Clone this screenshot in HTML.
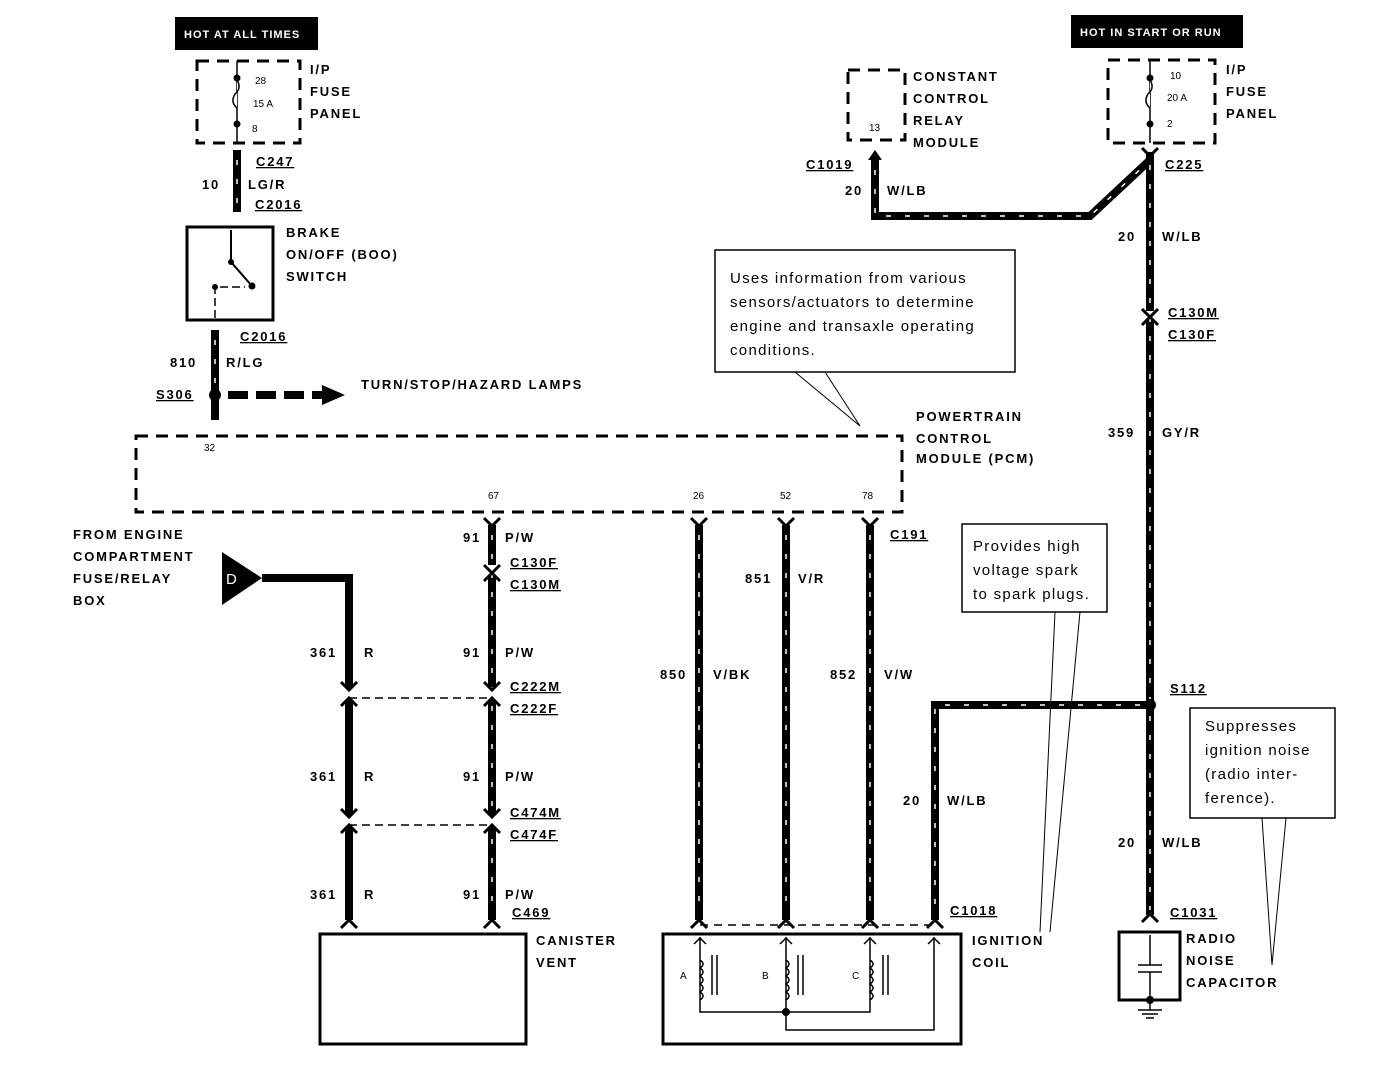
<!DOCTYPE html>
<html><head><style>
body{margin:0;background:#fff}
svg text{font-family:"Liberation Sans",sans-serif;font-weight:bold;font-size:13px;letter-spacing:1.8px;fill:#000}
svg text.n{font-weight:normal;font-size:15px;letter-spacing:1.3px}
svg text.s{font-size:10px;font-weight:normal;letter-spacing:0}
svg text.u{text-decoration:underline}
</style></head><body>
<svg width="1392" height="1060" viewBox="0 0 1392 1060" xmlns="http://www.w3.org/2000/svg">
<!-- top-left -->
<rect x="175" y="17" width="143" height="33" fill="#000"/>
<text x="184" y="38" style="fill:#fff;font-size:11px;letter-spacing:1px">HOT AT ALL TIMES</text>
<rect x="197" y="61" width="103" height="82" fill="none" stroke="#000" stroke-width="3" stroke-dasharray="12 8"/>
<line x1="237" y1="61" x2="237" y2="143" stroke="#000" stroke-width="1.5"/>
<path d="M237,80 q5,8 -2,14 q-5,8 2,14" fill="#fff" stroke="#000" stroke-width="1.5"/>
<circle cx="237" cy="78" r="3.5"/><circle cx="237" cy="124" r="3.5"/>
<text class="s" x="255" y="84">28</text><text class="s" x="253" y="107">15 A</text><text class="s" x="252" y="132">8</text>
<text x="310" y="74">I/P</text><text x="310" y="96">FUSE</text><text x="310" y="118">PANEL</text>
<line x1="237" y1="150" x2="237" y2="212" stroke="#000" stroke-width="8"/>
<line x1="237" y1="160" x2="237" y2="205" stroke="#fff" stroke-width="1.5" stroke-dasharray="5 14"/>
<text class="u" x="256" y="166">C247</text><text x="202" y="189">10</text><text x="248" y="189">LG/R</text><text class="u" x="255" y="209">C2016</text>
<rect x="187" y="227" width="86" height="93" fill="none" stroke="#000" stroke-width="3"/>
<polyline points="231,230 231,262 252,286" fill="none" stroke="#000" stroke-width="2"/>
<circle cx="231" cy="262" r="3"/><circle cx="252" cy="286" r="3.5"/>
<polyline points="215,318 215,287 245,287" fill="none" stroke="#000" stroke-width="1.5" stroke-dasharray="8 4"/>
<circle cx="215" cy="287" r="3"/>
<text x="286" y="237">BRAKE</text><text x="286" y="259">ON/OFF (BOO)</text><text x="286" y="281">SWITCH</text>
<line x1="215" y1="330" x2="215" y2="420" stroke="#000" stroke-width="8"/>
<line x1="215" y1="340" x2="215" y2="385" stroke="#fff" stroke-width="1.5" stroke-dasharray="5 14"/>
<text class="u" x="240" y="341">C2016</text><text x="170" y="367">810</text><text x="226" y="367">R/LG</text>
<text class="u" x="156" y="399">S306</text>
<circle cx="215" cy="395" r="6"/>
<line x1="228" y1="395" x2="325" y2="395" stroke="#000" stroke-width="8" stroke-dasharray="20 8"/>
<polygon points="322,385 345,395 322,405"/>
<text x="361" y="389">TURN/STOP/HAZARD LAMPS</text>
<!-- PCM -->
<rect x="136" y="436" width="766" height="76" fill="none" stroke="#000" stroke-width="3" stroke-dasharray="12 8"/>
<text class="s" x="204" y="451">32</text>
<text class="s" x="488" y="499">67</text><text class="s" x="693" y="499">26</text><text class="s" x="780" y="499">52</text><text class="s" x="862" y="499">78</text>
<text x="916" y="421">POWERTRAIN</text><text x="916" y="443">CONTROL</text><text x="916" y="463">MODULE (PCM)</text>
<rect x="715" y="250" width="300" height="122" fill="#fff" stroke="#000" stroke-width="1.5"/>
<text class="n" x="730" y="283">Uses information from various</text>
<text class="n" x="730" y="307">sensors/actuators to determine</text>
<text class="n" x="730" y="331">engine and transaxle operating</text>
<text class="n" x="730" y="355">conditions.</text>
<polyline points="795,372 860,426 825,372" fill="none" stroke="#000" stroke-width="1"/>
<!-- left -->
<text x="73" y="539">FROM ENGINE</text><text x="73" y="561">COMPARTMENT</text><text x="73" y="583">FUSE/RELAY</text><text x="73" y="605">BOX</text>
<polygon points="222,552 222,605 262,578"/>
<text x="226" y="584" style="fill:#fff;font-weight:normal;font-size:15px">D</text>
<polyline points="262,578 349,578 349,920" fill="none" stroke="#000" stroke-width="8"/>
<text x="310" y="657">361</text><text x="364" y="657">R</text>
<text x="310" y="781">361</text><text x="364" y="781">R</text>
<text x="310" y="899">361</text><text x="364" y="899">R</text>
<line x1="492" y1="525" x2="492" y2="920" stroke="#000" stroke-width="8"/>
<line x1="492" y1="535" x2="492" y2="915" stroke="#fff" stroke-width="1.5" stroke-dasharray="5 14"/>
<g fill="#fff"><rect x="340" y="688" width="160" height="12"/><rect x="340" y="815" width="160" height="12"/><rect x="484" y="565" width="16" height="10"/></g>
<g fill="none" stroke="#000" stroke-width="3">
<path d="M341,682 L349,690 L357,682 M341,706 L349,698 L357,706"/>
<path d="M484,682 L492,690 L500,682 M484,706 L492,698 L500,706"/>
<path d="M341,809 L349,817 L357,809 M341,833 L349,825 L357,833"/>
<path d="M484,809 L492,817 L500,809 M484,833 L492,825 L500,833"/>
<path d="M484,565 L492,573 L500,565 M484,581 L492,573 L500,581"/>
<path d="M341,928 L349,920 L357,928 M484,928 L492,920 L500,928 M484,518 L492,526 L500,518"/>
</g>
<line x1="349" y1="698" x2="492" y2="698" stroke="#000" stroke-width="1.5" stroke-dasharray="8 5"/>
<line x1="349" y1="825" x2="492" y2="825" stroke="#000" stroke-width="1.5" stroke-dasharray="8 5"/>
<text x="463" y="542">91</text><text x="505" y="542">P/W</text><text class="u" x="510" y="567">C130F</text><text class="u" x="510" y="589">C130M</text>
<text x="463" y="657">91</text><text x="505" y="657">P/W</text><text class="u" x="510" y="691">C222M</text><text class="u" x="510" y="713">C222F</text>
<text x="463" y="781">91</text><text x="505" y="781">P/W</text><text class="u" x="510" y="817">C474M</text><text class="u" x="510" y="839">C474F</text>
<text x="463" y="899">91</text><text x="505" y="899">P/W</text><text class="u" x="512" y="917">C469</text>
<rect x="320" y="934" width="206" height="110" fill="none" stroke="#000" stroke-width="3"/>
<text x="536" y="945">CANISTER</text><text x="536" y="967">VENT</text>
<!-- coil wires -->
<g stroke="#000" stroke-width="8"><line x1="699" y1="525" x2="699" y2="920"/><line x1="786" y1="525" x2="786" y2="920"/><line x1="870" y1="525" x2="870" y2="920"/></g>
<g stroke="#fff" stroke-width="1.5" stroke-dasharray="5 14"><line x1="699" y1="535" x2="699" y2="915"/><line x1="786" y1="535" x2="786" y2="915"/><line x1="870" y1="535" x2="870" y2="915"/></g>
<g fill="none" stroke="#000" stroke-width="3">
<path d="M691,518 L699,526 L707,518 M778,518 L786,526 L794,518 M862,518 L870,526 L878,518"/>
<path d="M691,928 L699,920 L707,928 M778,928 L786,920 L794,928 M862,928 L870,920 L878,928 M927,928 L935,920 L943,928"/>
</g>
<line x1="700" y1="925" x2="935" y2="925" stroke="#000" stroke-width="1.5" stroke-dasharray="8 6"/>
<text class="u" x="890" y="539">C191</text>
<text x="745" y="583">851</text><text x="798" y="583">V/R</text>
<text x="660" y="679">850</text><text x="713" y="679">V/BK</text>
<text x="830" y="679">852</text><text x="884" y="679">V/W</text>
<polyline points="1150,705 935,705 935,920" fill="none" stroke="#000" stroke-width="8"/>
<polyline points="1140,705 935,705 935,910" fill="none" stroke="#fff" stroke-width="1.5" stroke-dasharray="5 14"/>
<text x="903" y="805">20</text><text x="947" y="805">W/LB</text><text class="u" x="950" y="915">C1018</text>
<rect x="663" y="934" width="298" height="110" fill="none" stroke="#000" stroke-width="3"/>
<g fill="none" stroke="#000" stroke-width="1.5">
<polyline points="700,937 700,1012 786,1012"/><polyline points="786,937 786,1030 934,1030 934,937"/><polyline points="870,937 870,1012 786,1012"/>
<path d="M700,960 q6,4 0,8 q6,4 0,8 q6,4 0,8 q6,4 0,8 q6,4 0,8"/>
<path d="M786,960 q6,4 0,8 q6,4 0,8 q6,4 0,8 q6,4 0,8 q6,4 0,8"/>
<path d="M870,960 q6,4 0,8 q6,4 0,8 q6,4 0,8 q6,4 0,8 q6,4 0,8"/>
<path d="M712,955 v40 M717,955 v40 M798,955 v40 M803,955 v40 M883,955 v40 M888,955 v40"/>
<path d="M694,944 L700,938 L706,944 M780,944 L786,938 L792,944 M864,944 L870,938 L876,944 M928,944 L934,938 L940,944"/>
</g>
<circle cx="786" cy="1012" r="4"/>
<text class="s" x="680" y="979">A</text><text class="s" x="762" y="979">B</text><text class="s" x="852" y="979">C</text>
<text x="972" y="945">IGNITION</text><text x="972" y="967">COIL</text>
<rect x="962" y="524" width="145" height="88" fill="#fff" stroke="#000" stroke-width="1.5"/>
<text class="n" x="973" y="551">Provides high</text><text class="n" x="973" y="575">voltage spark</text><text class="n" x="973" y="599">to spark plugs.</text>
<polyline points="1055,612 1040,932" fill="none" stroke="#000" stroke-width="1"/>
<polyline points="1080,612 1050,932" fill="none" stroke="#000" stroke-width="1"/>
<!-- top right -->
<rect x="848" y="70" width="57" height="70" fill="none" stroke="#000" stroke-width="3" stroke-dasharray="12 8"/>
<text class="s" x="869" y="131">13</text>
<text x="913" y="81">CONSTANT</text><text x="913" y="103">CONTROL</text><text x="913" y="125">RELAY</text><text x="913" y="147">MODULE</text>
<rect x="1071" y="15" width="172" height="33" fill="#000"/>
<text x="1080" y="36" style="fill:#fff;font-size:11px;letter-spacing:1px">HOT IN START OR RUN</text>
<rect x="1108" y="60" width="107" height="83" fill="none" stroke="#000" stroke-width="3" stroke-dasharray="12 8"/>
<line x1="1150" y1="60" x2="1150" y2="143" stroke="#000" stroke-width="1.5"/>
<path d="M1150,80 q5,8 -2,14 q-5,8 2,14" fill="#fff" stroke="#000" stroke-width="1.5"/>
<circle cx="1150" cy="78" r="3.5"/><circle cx="1150" cy="124" r="3.5"/>
<text class="s" x="1170" y="79">10</text><text class="s" x="1167" y="101">20 A</text><text class="s" x="1167" y="127">2</text>
<text x="1226" y="74">I/P</text><text x="1226" y="96">FUSE</text><text x="1226" y="118">PANEL</text>
<polyline points="875,158 875,216 1090,216 1150,160" fill="none" stroke="#000" stroke-width="8"/>
<polyline points="875,170 875,216 1090,216 1145,165" fill="none" stroke="#fff" stroke-width="1.5" stroke-dasharray="5 14"/>
<polygon points="868,160 875,150 882,160"/>
<text class="u" x="806" y="169">C1019</text><text x="845" y="195">20</text><text x="887" y="195">W/LB</text>
<line x1="1150" y1="152" x2="1150" y2="915" stroke="#000" stroke-width="8"/>
<line x1="1150" y1="165" x2="1150" y2="910" stroke="#fff" stroke-width="1.5" stroke-dasharray="5 14"/>
<rect x="1140" y="311" width="20" height="9" fill="#fff"/>
<path d="M1142,309 L1150,317 L1158,309 M1142,325 L1150,317 L1158,325 M1142,148 L1150,156 L1158,148 M1142,922 L1150,914 L1158,922" fill="none" stroke="#000" stroke-width="3"/>
<text class="u" x="1165" y="169">C225</text><text x="1118" y="241">20</text><text x="1162" y="241">W/LB</text>
<text class="u" x="1168" y="317">C130M</text><text class="u" x="1168" y="339">C130F</text>
<text x="1108" y="437">359</text><text x="1162" y="437">GY/R</text>
<circle cx="1150" cy="705" r="6"/>
<text class="u" x="1170" y="693">S112</text>
<text x="1118" y="847">20</text><text x="1162" y="847">W/LB</text><text class="u" x="1170" y="917">C1031</text>
<rect x="1119" y="932" width="61" height="68" fill="none" stroke="#000" stroke-width="3"/>
<g stroke="#000" stroke-width="1.5" fill="none"><path d="M1150,935 v30 M1138,965 h24 M1138,972 h24 M1150,972 v28 M1150,1000 v10 M1138,1010 h24 M1142,1014 h16 M1146,1018 h8"/></g>
<circle cx="1150" cy="1000" r="4"/>
<text x="1186" y="943">RADIO</text><text x="1186" y="965">NOISE</text><text x="1186" y="987">CAPACITOR</text>
<rect x="1190" y="708" width="145" height="110" fill="#fff" stroke="#000" stroke-width="1.5"/>
<text class="n" x="1205" y="731">Suppresses</text><text class="n" x="1205" y="755">ignition noise</text><text class="n" x="1205" y="779">(radio inter-</text><text class="n" x="1205" y="803">ference).</text>
<polyline points="1262,818 1272,965 1286,818" fill="none" stroke="#000" stroke-width="1"/>
</svg>
</body></html>
